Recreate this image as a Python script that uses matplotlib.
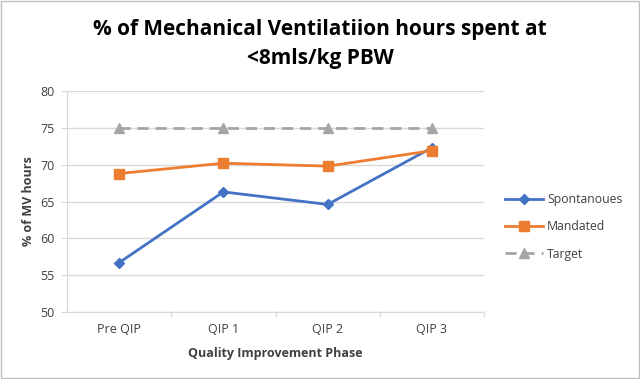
import matplotlib.pyplot as plt
from matplotlib.patches import Rectangle

phases = ["Pre QIP", "QIP 1", "QIP 2", "QIP 3"]
spontaneous = [56.7, 66.3, 64.6, 72.3]
mandated = [68.8, 70.2, 69.8, 71.9]
target = [75, 75, 75, 75]

plt.rcParams["font.family"] = ["Open Sans", "DejaVu Sans"]

fig = plt.figure(figsize=(6.4, 3.79), dpi=100)
ax = fig.add_axes([67 / 640, 1 - 312 / 379, (484 - 67) / 640, (312 - 91) / 379])

x = range(len(phases))
ax.plot(x, spontaneous, color="#4472C4", lw=2, marker="D", ms=5.5, label="Spontanoues")
ax.plot(x, mandated, color="#ED7D31", lw=2, marker="s", ms=7, label="Mandated")
ax.plot(x, target, color="#A5A5A5", lw=2, ls=(0, (4, 2.5)), marker="^", ms=7, label="Target")

ax.set_xlim(-0.5, 3.5)
ax.set_ylim(50, 80)
ax.set_yticks(range(50, 81, 5))
ax.set_xticks(list(x))
ax.set_xticklabels(phases)
ax.grid(axis="y", color="#D9D9D9", lw=1)
ax.set_axisbelow(True)
for s in ["top", "right"]:
    ax.spines[s].set_visible(False)
ax.spines["bottom"].set_color("#D9D9D9")
ax.spines["left"].set_color("#D9D9D9")
ax.tick_params(axis="y", length=4, color="#D9D9D9", labelsize=9, labelcolor="#404040", pad=5)
ax.tick_params(axis="x", length=0, labelsize=9, labelcolor="#404040", pad=8)
for b in [0.5, 1.5, 2.5, 3.5]:
    ax.plot([b, b], [50, 49.4], color="#D9D9D9", lw=1, clip_on=False)

ax.set_xlabel("Quality Improvement Phase", fontsize=9, fontweight="bold", color="#404040", labelpad=8)
ax.set_ylabel("% of MV hours", fontsize=9, fontweight="bold", color="#404040", labelpad=4)

fig.text(0.5, 0.885, "% of Mechanical Ventilatiion hours spent at\n<8mls/kg PBW",
         ha="center", va="center", fontsize=15, fontweight="bold", linespacing=1.5)

ax.legend(loc="center left", bbox_to_anchor=(505 / 640, 1 - 227 / 379), bbox_transform=fig.transFigure,
          frameon=False, fontsize=8.8, borderpad=0, borderaxespad=0,
          handlelength=3.1, handletextpad=0.35, labelspacing=1.15, labelcolor="#404040")

fig.patches.append(Rectangle((0.002, 0.003), 0.996, 0.994, transform=fig.transFigure,
                             fill=False, edgecolor="#BFBFBF", lw=1))

fig.savefig("out.png", dpi=100)
